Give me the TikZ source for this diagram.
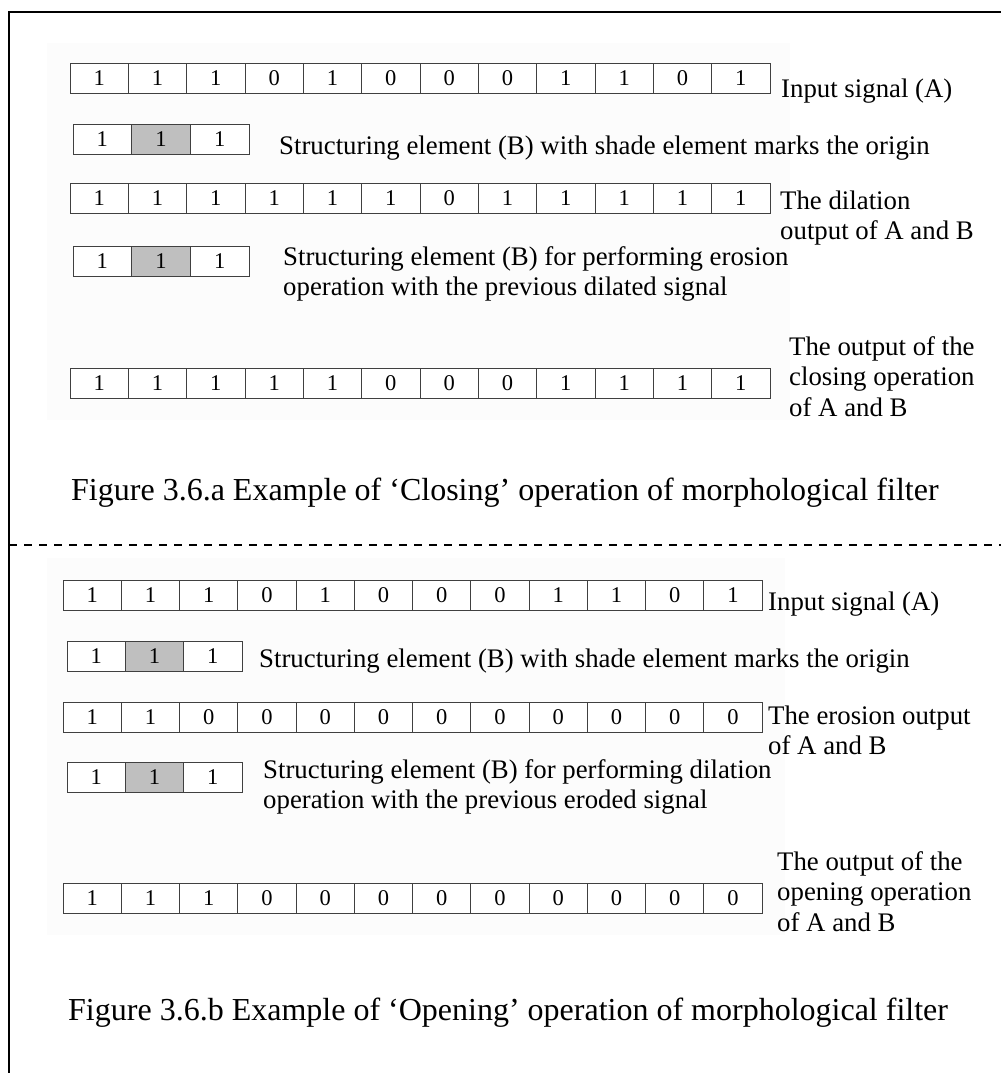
\documentclass[tikz,border=0pt]{standalone}
\usepackage{fontspec}
\setmainfont{Liberation Serif}
\newcommand\mkrow[5]{%
  \foreach \v [count=\i] in {#5} {\node[cell, minimum width=#4pt] (#1-\i) at ({#2+(\i-1)*#4}, #3) {\v};}}
\newcommand\mkse[4]{%
  \node[cell, minimum width=#4pt] (#1-1) at (#2, #3) {1};
  \node[org, minimum width=#4pt] (#1-2) at ({#2+#4}, #3) {1};
  \node[cell, minimum width=#4pt] (#1-3) at ({#2+2*#4}, #3) {1};}
\newcommand\lines[1]{\begin{tabular}[t]{@{}l@{}}#1\end{tabular}}
\begin{document}
\begin{tikzpicture}[x=1pt,y=-1pt,
  cell/.style={draw=black!75, line width=0.8pt, fill=white, minimum height=30pt, inner sep=0pt, outer sep=0pt, anchor=west, font=\fontsize{22.5}{22.5}\selectfont},
  org/.style={cell, fill=black!25},
  lbl/.style={anchor=base west, inner sep=0pt, font=\fontsize{26.8}{30.5}\selectfont},
  figcap/.style={anchor=base west, inner sep=0pt, font=\fontsize{32}{36}\selectfont},
  bgpanel/.style={fill=black!1.2, draw=none}]
\useasboundingbox (0,0) rectangle (1001,1073);
\fill[white] (0,0) rectangle (1001,1073);
% light panels
\fill[bgpanel] (47,43) rectangle (790,420);
\fill[bgpanel] (47,558) rectangle (785,935);
% frame
\draw[line width=2pt] (9,1073) -- (9,12) -- (1001,12);
\draw[line width=1.3pt, dash pattern=on 8pt off 7pt] (9,545) -- (1001,545);
% ---- closing ----
\mkrow{a1}{70}{78}{58.33}{1,1,1,0,1,0,0,0,1,1,0,1}
\node[lbl] (la1) at (781,97) {Input signal (A)};
\mkse{a2}{73}{139}{58.67}
\node[lbl] (la2) at (279,154) {Structuring element (B) with shade element marks the origin};
\mkrow{a3}{70}{198.5}{58.33}{1,1,1,1,1,1,0,1,1,1,1,1}
\node[lbl] (la3) at (780,209) {\lines{The dilation\\output of A and B}};
\mkse{a4}{73}{261}{58.67}
\node[lbl] (la4) at (283,265) {\lines{Structuring element (B) for performing erosion\\operation with the previous dilated signal}};
\mkrow{a5}{70}{383}{58.33}{1,1,1,1,1,0,0,0,1,1,1,1}
\node[lbl] (la5) at (789,355) {\lines{The output of the\\closing operation\\of A and B}};
\node[figcap] (capa) at (71,500) {Figure 3.6.a Example of ‘Closing’ operation of morphological filter};
% ---- opening ----
\mkrow{b1}{63}{595.5}{58.25}{1,1,1,0,1,0,0,0,1,1,0,1}
\node[lbl] (lb1) at (768,610) {Input signal (A)};
\mkse{b2}{67}{656.5}{58.33}
\node[lbl] (lb2) at (259,667) {Structuring element (B) with shade element marks the origin};
\mkrow{b3}{63}{717}{58.25}{1,1,0,0,0,0,0,0,0,0,0,0}
\node[lbl] (lb3) at (768,724) {\lines{The erosion output\\of A and B}};
\mkse{b4}{67}{777}{58.33}
\node[lbl] (lb4) at (263,778) {\lines{Structuring element (B) for performing dilation\\operation with the previous eroded signal}};
\mkrow{b5}{63}{898}{58.25}{1,1,1,0,0,0,0,0,0,0,0,0}
\node[lbl] (lb5) at (777,870) {\lines{The output of the\\opening operation\\of A and B}};
\node[figcap] (capb) at (68,1020) {Figure 3.6.b Example of ‘Opening’ operation of morphological filter};
\end{tikzpicture}
\end{document}
